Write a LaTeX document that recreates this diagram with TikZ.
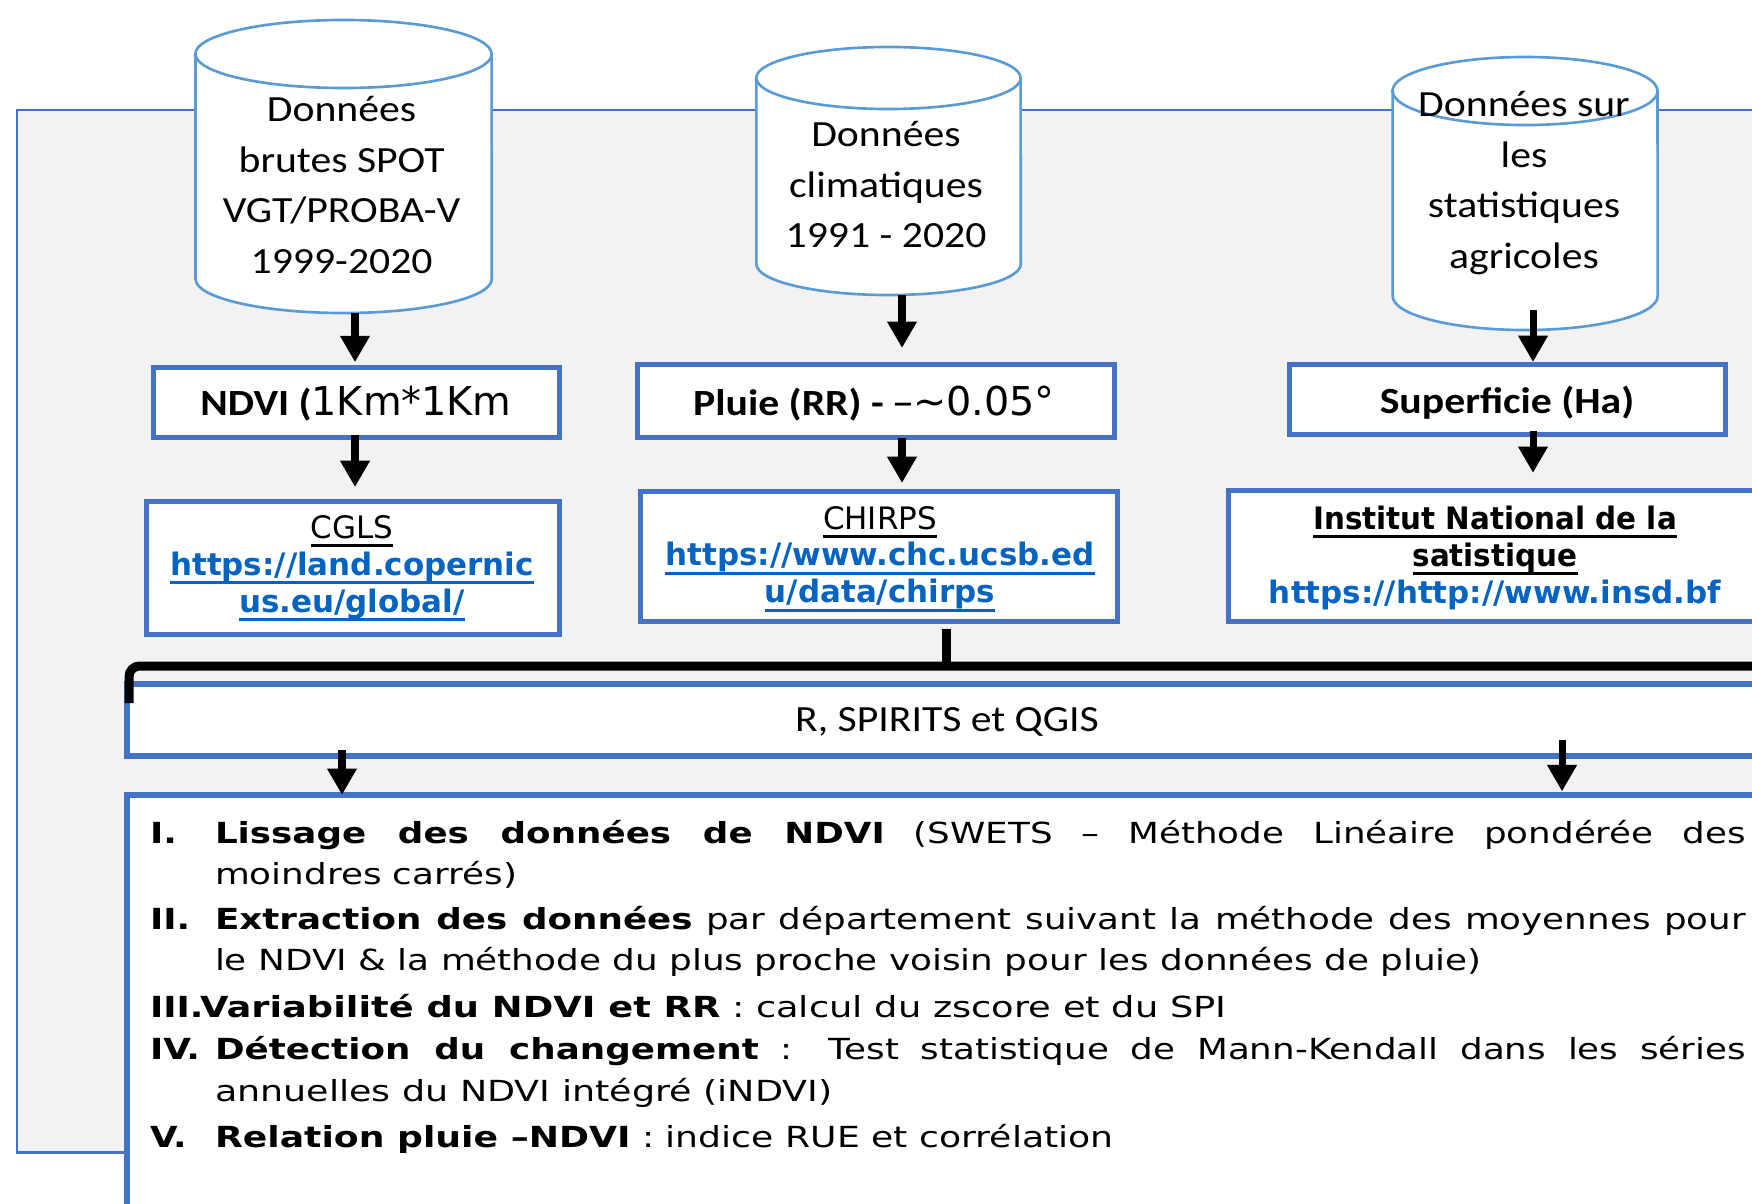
\documentclass[tikz,border=0pt]{standalone}
\usepackage{graphicx}
\usepackage{fontspec}
\setmainfont{Carlito}
\newfontfamily\calfont[FakeStretch=1.13]{Carlito}
\newfontfamily\verdfont{DejaVu Sans}
\newfontfamily\listfont[FakeStretch=1.23]{DejaVu Sans}
\newfontfamily\insdfont[FakeStretch=0.95]{DejaVu Sans}
\usetikzlibrary{arrows.meta,calc}
\definecolor{boxblue}{HTML}{4472C4}
\definecolor{cylblue}{HTML}{5B9BD5}
\definecolor{urlblue}{HTML}{0563C1}
\definecolor{bggray}{HTML}{F2F2F2}
\newsavebox\ulbox
\newcommand\ulx[1]{\sbox\ulbox{#1}\rlap{\rule[-2.6pt]{\wd\ulbox}{0.85pt}}\usebox\ulbox}
\newcommand\stk[1]{\begin{tabular}[t]{@{}c@{}}#1\end{tabular}}
\newcommand\drawcyl[6]{%
  \pgfmathsetmacro\cylcx{(#2+#3)/2}%
  \pgfmathsetmacro\cylcy{(#4+#5)/2}%
  \pgfmathsetmacro\cylrx{(#3-#2)/200}%
  \pgfmathsetmacro\cylry{#6/100}%
  \pgfmathsetmacro\cylw{(#3-#2)/100}%
  \pgfmathsetmacro\cylh{(#5-#4)/100}%
  \pgfmathsetmacro\cylta{#4+#6}%
  \pgfmathsetmacro\cylba{#5-#6}%
  \node[inner sep=0pt, outer sep=0pt, minimum width=\cylw cm, minimum height=\cylh cm] (#1) at (\cylcx,\cylcy) {};
  \path[cylshape] (#2,\cylta) -- (#2,\cylba) arc[start angle=180, end angle=360, x radius=\cylrx cm, y radius=\cylry cm] -- (#3,\cylta) arc[start angle=0, end angle=180, x radius=\cylrx cm, y radius=\cylry cm] -- cycle;
  \draw[cylshape, fill=none] (#2,\cylta) arc[start angle=180, end angle=360, x radius=\cylrx cm, y radius=\cylry cm];
}
\tikzset{
  cylshape/.style={draw=cylblue, fill=white, line width=0.75pt},
  sbox/.style={draw=boxblue, fill=white, line width=1.42pt, inner sep=0pt, outer sep=0pt},
  bbox/.style={draw=boxblue, fill=white, line width=1.7pt, inner sep=0pt, outer sep=0pt},
  txt/.style={inner sep=0pt, outer sep=0pt, anchor=base},
  caltxt/.style={txt, font=\calfont\fontsize{10.5pt}{14.4pt}\selectfont},
  urltxt/.style={txt, font=\verdfont\fontsize{8.8pt}{10.5pt}\selectfont},
  listtxt/.style={inner sep=0pt, outer sep=0pt, anchor=base west, font=\listfont\fontsize{8.25pt}{10pt}\selectfont},
  arr/.style={line width=2pt, -{Triangle[width=8pt,length=7.5pt]}},
  barline/.style={line width=2.56pt},
}
\begin{document}
\begin{tikzpicture}[x=0.01cm,y=-0.01cm]
\useasboundingbox (0,0) rectangle (1752,1203);
\clip (0,0) rectangle (1752,1203);
% background frame
\path[fill=bggray, draw=boxblue, line width=0.85pt] (17,110) rectangle (1800,1152);
% cylinders
\drawcyl{cyl1}{195.5}{491.6}{20}{313}{34}
\drawcyl{cyl2}{756.4}{1020.6}{47}{295}{31}
\drawcyl{cyl3}{1392.6}{1657.5}{57}{330}{34}
\node[caltxt] (t1) at (341.6,121.7) {\stk{Données\\brutes SPOT\\VGT/PROBA-V\\1999-2020}};
\node[caltxt] (t2) at (886,146.7) {\stk{Données\\climatiques\\1991 - 2020}};
\node[caltxt] (t3) at (1524,116.7) {\stk{Données sur\\les\\statistiques\\agricoles}};
% boxes
\node[sbox, minimum width=4.06cm, minimum height=0.70cm] (ndvi) at (356.5,402.5) {};
\node[sbox, minimum width=4.77cm, minimum height=0.73cm] (pluie) at (876,401) {};
\node[sbox, minimum width=4.36cm, minimum height=0.70cm] (sup) at (1507.5,399.5) {};
\node[sbox, minimum width=4.13cm, minimum height=1.33cm] (cgls) at (353,568) {};
\node[sbox, minimum width=4.77cm, minimum height=1.30cm] (chirps) at (879,556.5) {};
\node[sbox, minimum width=5.33cm, minimum height=1.31cm] (insd) at (1495,556) {};
\node[caltxt] (ndvit) at (356,415) {\bfseries NDVI ({\verdfont\mdseries\fontsize{11.3pt}{14pt}\selectfont 1Km*1Km}};
\node[caltxt] (pluiet) at (874,415) {\bfseries Pluie (RR) - {\verdfont\mdseries\fontsize{11.3pt}{14pt}\selectfont –\textasciitilde0.05°}};
\node[caltxt] (supt) at (1507,413.3) {\bfseries Superficie (Ha)};
\node[urltxt] (cglst) at (352,538.3) {\stk{\ulx{CGLS}\\ \bfseries\color{urlblue}\ulx{https://land.copernic}\\ \bfseries\color{urlblue}\ulx{us.eu/global/}}};
\node[urltxt] (chirpst) at (880,529) {\stk{\ulx{CHIRPS}\\ \bfseries\color{urlblue}\ulx{https://www.chc.ucsb.ed}\\ \bfseries\color{urlblue}\ulx{u/data/chirps}}};
\node[urltxt] (insdt) at (1495,529.3) {\stk{\insdfont\bfseries\ulx{Institut National de la}\\ \insdfont\bfseries\ulx{satistique}\\ \bfseries\color{urlblue}https://http://www.insd.bf}};
% arrow positions
\coordinate (ax1) at (355,0);
\coordinate (ax2) at (902,0);
\coordinate (ax3) at (1533,0);
\coordinate (ax4) at (946,0);
\coordinate (ax5) at (342,0);
\coordinate (ax6) at (1562,0);
\draw[arr, shorten >=1.5pt] (cyl1.south -| ax1) -- (ndvi.north -| ax1);
\draw[arr, shorten <=-0.7pt, shorten >=4.1pt] (ndvi.south -| ax1) -- (cgls.north -| ax1);
\draw[arr, shorten >=4.7pt] (cyl2.south -| ax2) -- (pluie.north -| ax2);
\draw[arr, shorten >=2.4pt] (pluie.south -| ax2) -- (chirps.north -| ax2);
\draw[arr, shorten <=-5.7pt, shorten >=0.7pt] (cyl3.south -| ax3) -- (sup.north -| ax3);
\draw[arr, shorten <=-1pt, shorten >=5pt] (sup.south -| ax3) -- (insd.north -| ax3);
% R box
\node[bbox, minimum width=16.40cm, minimum height=0.72cm] (rbox) at (947,720) {};
\node[caltxt] (rboxt) at (947,731.7) {R, SPIRITS et QGIS};
% steps box
\node[bbox, minimum width=16.53cm, minimum height=4.65cm] (steps) at (953.5,1027.5) {};
% bracket bar
\coordinate (barL) at (129,703);
\coordinate (barR) at (1800,666);
\draw[barline, rounded corners=3pt] (barL) |- (barR);
\draw[barline, shorten <=2pt] (chirps.south -| ax4) -- (barR -| ax4);
\draw[arr, shorten <=-1.8pt] (rbox.south -| ax5) -- (steps.north -| ax5);
\draw[arr, shorten <=-4.7pt, shorten >=1pt] (rbox.south -| ax6) -- (steps.north -| ax6);
% list
\node[listtxt] (l1) at (150,843) {\bfseries I.};
\node[listtxt] (s1a) at (215,843) {\makebox[15.3cm][s]{{\bfseries Lissage des données de NDVI} (SWETS – Méthode Linéaire pondérée des}};
\node[listtxt] (s1b) at (215,884) {\resizebox{3.02cm}{\height}{moindres carrés)}};
\node[listtxt] (l2) at (150,929) {\bfseries II.};
\node[listtxt] (s2a) at (215,929) {\makebox[15.3cm][s]{{\bfseries Extraction des données} par département suivant la méthode des moyennes pour}};
\node[listtxt] (s2b) at (215,970) {\resizebox{12.66cm}{\height}{le NDVI \& la méthode du plus proche voisin pour les données de pluie)}};
\node[listtxt] (l3) at (150,1017) {\bfseries III.};
\node[listtxt] (s3) at (200,1017) {\resizebox{10.26cm}{\height}{{\bfseries Variabilité du NDVI et RR} : calcul du zscore et du SPI}};
\node[listtxt] (l4) at (150,1059) {\bfseries IV.};
\node[listtxt] (s4a) at (215,1059) {\makebox[15.3cm][s]{{\bfseries Détection du changement} : Test statistique de Mann-Kendall dans les séries}};
\node[listtxt] (s4b) at (215,1101) {\resizebox{6.17cm}{\height}{annuelles du NDVI intégré (iNDVI)}};
\node[listtxt] (l5) at (150,1147) {\bfseries V.};
\node[listtxt] (s5) at (215,1147) {\resizebox{8.98cm}{\height}{{\bfseries Relation pluie –NDVI} : indice RUE et corrélation}};
\end{tikzpicture}
\end{document}
